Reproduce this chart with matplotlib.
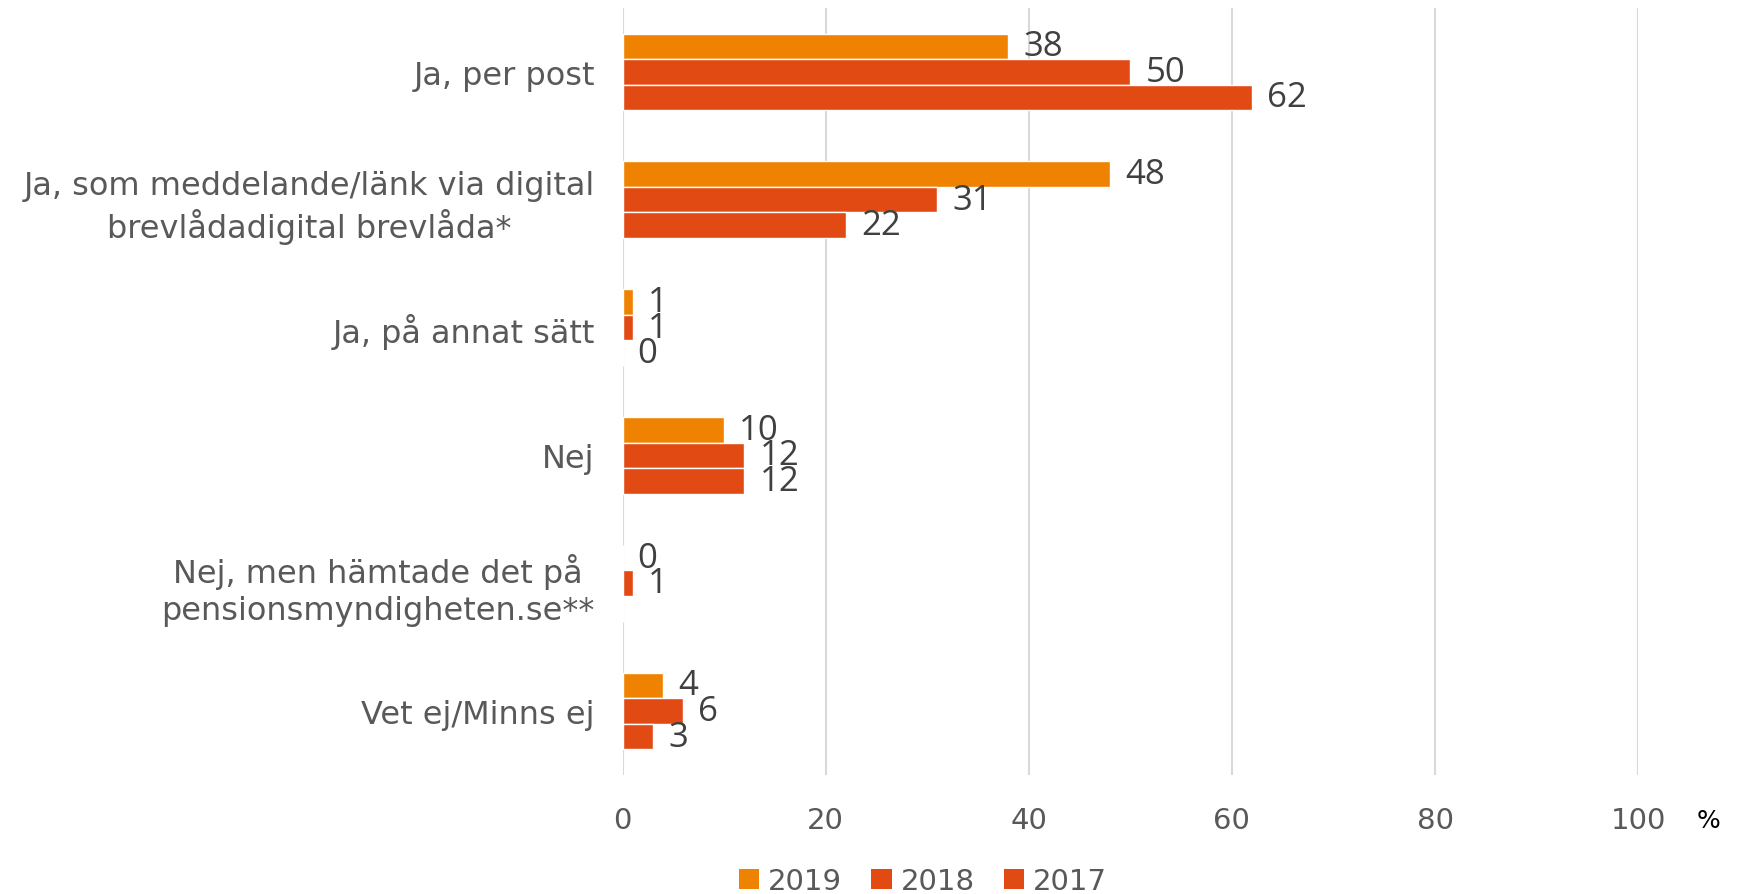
import numpy as np
import matplotlib
matplotlib.use("Agg")
import matplotlib.pyplot as plt
from matplotlib.patches import Patch

plt.rcParams["font.family"] = ["DejaVu Sans"]

categories = [
    "Ja, per post",
    "Ja, som meddelande/länk via digital\nbrevlådadigital brevlåda*",
    "Ja, på annat sätt",
    "Nej",
    "Nej, men hämtade det på\npensionsmyndigheten.se**",
    "Vet ej/Minns ej",
]
series_names = ["2019", "2018", "2017"]
values_2019 = [38, 48, 1, 10, 0, 4]
values_2018 = [50, 31, 1, 12, 1, 6]
values_2017 = [62, 22, 0, 12, np.nan, 3]
x_ticks = [0, 20, 40, 60, 80, 100]

colors = ["#EF8200", "#E24A14", "#E24A14"]
series = [values_2019, values_2018, values_2017]

fig = plt.figure(figsize=(17.39, 8.95), dpi=100)
ax = fig.add_axes([0.358, 0.133, 0.584, 0.857])

bar_h = 0.2
y = np.arange(len(categories))
for i, (vals, c) in enumerate(zip(series, colors)):
    ypos = y + (i - 1) * bar_h
    v = np.array(vals, dtype=float)
    ax.barh(ypos, np.nan_to_num(v), height=bar_h, color=c, edgecolor="white",
            linewidth=1.0, zorder=3)
    for yy, val in zip(ypos, v):
        if np.isnan(val):
            continue
        ax.annotate(f"{int(val)}", xy=(val, yy), xytext=(15, 0),
                    textcoords="offset pixels",
                    ha="left", va="center", fontsize=25, fontfamily="Open Sans",
                    color="#404040", zorder=4)

ax.set_ylim(len(categories) - 0.5, -0.5)
ax.set_xlim(0, 100)
ax.set_xticks(x_ticks)
ax.set_xticklabels([str(t) for t in x_ticks], fontfamily="DejaVu Sans",
                   fontsize=21, color="#595959")
ax.set_yticks(y)
ax.set_yticklabels(categories, ha="right", multialignment="center",
                   fontfamily="DejaVu Sans", fontsize=23, color="#595959",
                   linespacing=1.25)

ax.tick_params(axis="x", length=0, pad=22)
ax.tick_params(axis="y", length=0, pad=20)

ax.grid(axis="x", color="#D9D9D9", linewidth=1.5, zorder=0)
ax.set_axisbelow(True)
for s in ax.spines.values():
    s.set_visible(False)

fig.text(1708 / 1739, 1 - 821 / 895, "%", ha="center", va="center",
         fontsize=18, color="black", fontfamily="DejaVu Sans")

handles = [Patch(facecolor=c, edgecolor="none", label=n) for c, n in zip(colors, series_names)]
fig.legend(handles=handles, loc="center", bbox_to_anchor=(923 / 1739, 1 - 882 / 895),
           ncol=3, frameon=False, labelcolor="#595959",
           handlelength=0.7, handleheight=0.7, handletextpad=0.3, columnspacing=1.0,
           prop={"family": "DejaVu Sans", "size": 21})

fig.savefig("out.png", dpi=100)
